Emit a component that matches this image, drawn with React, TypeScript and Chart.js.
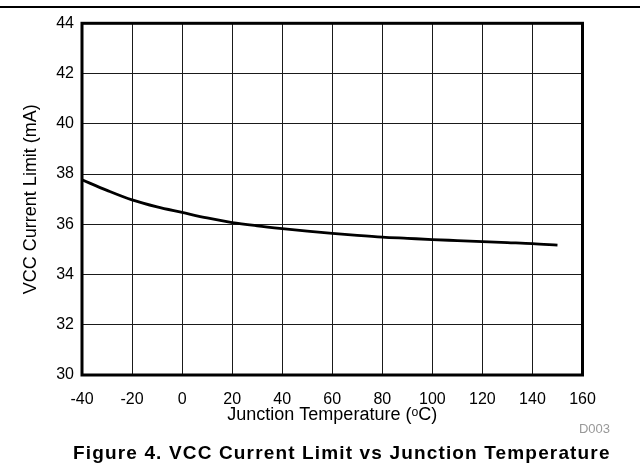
import React, { useEffect, useRef } from "react";
import { Chart, registerables } from "chart.js";

Chart.register(...registerables);

const temperatures = [-40, -30, -20, -10, 0, 10, 20, 30, 40, 50, 60, 70, 80, 90, 100, 110, 120, 130, 140, 150];
const currentLimit = [37.77, 37.35, 36.97, 36.69, 36.47, 36.25, 36.07, 35.94, 35.83, 35.73, 35.64, 35.56, 35.49, 35.44, 35.39, 35.35, 35.31, 35.27, 35.23, 35.17];
const xTicks = [-40, -20, 0, 20, 40, 60, 80, 100, 120, 140, 160];
const yTicks = [30, 32, 34, 36, 38, 40, 42, 44];

const xTitle = "Junction Temperature (\u1D52C)";
const yTitle = "VCC Current Limit (mA)";
const caption = "Figure 4. VCC Current Limit vs Junction Temperature";
const docId = "D003";

const FONT = "'Liberation Sans', Arial, Helvetica, sans-serif";

const frame = {
  id: "frameBox",
  afterDatasetsDraw(chart: any) {
    const { ctx, chartArea } = chart;
    ctx.save();
    ctx.strokeStyle = "#000";
    ctx.lineWidth = 3;
    ctx.strokeRect(chartArea.left, chartArea.top, chartArea.right - chartArea.left, chartArea.bottom - chartArea.top);
    ctx.restore();
  },
};

export default function App() {
  const ref = useRef<HTMLCanvasElement | null>(null);

  useEffect(() => {
    if (!ref.current) return;
    const chart = new Chart(ref.current, {
      type: "line",
      data: {
        datasets: [
          {
            data: temperatures.map((t, i) => ({ x: t, y: currentLimit[i] })),
            borderColor: "#000",
            borderWidth: 2.8,
            pointRadius: 0,
            cubicInterpolationMode: "monotone",
            fill: false,
          },
        ],
      },
      options: {
        responsive: false,
        animation: false,
        layout: { padding: { left: 0, right: 57.5, top: 23.3, bottom: 34 } },
        plugins: { legend: { display: false }, tooltip: { enabled: false } },
        scales: {
          x: {
            type: "linear",
            min: -40,
            max: 160,
            afterBuildTicks: (s: any) => {
              s.ticks = xTicks.map((v) => ({ value: v }));
            },
            afterFit: (s: any) => {
              s.height = 55;
            },
            grid: { color: "#1a1a1a", lineWidth: 1, drawTicks: false },
            border: { display: false },
            ticks: { color: "#000", font: { family: FONT, size: 16 }, padding: 15, maxRotation: 0, autoSkip: false },
            title: { display: true, text: xTitle, color: "#000", font: { family: FONT, size: 18 }, padding: { top: 0, bottom: 4 } },
          },
          y: {
            min: 30,
            max: 44,
            afterBuildTicks: (s: any) => {
              s.ticks = yTicks.map((v) => ({ value: v }));
            },
            afterFit: (s: any) => {
              s.width = 82;
            },
            grid: { color: "#1a1a1a", lineWidth: 1, drawTicks: false },
            border: { display: false },
            ticks: { color: "#000", font: { family: FONT, size: 16 }, padding: 8, autoSkip: false },
            title: { display: true, text: yTitle, color: "#000", font: { family: FONT, size: 18 }, padding: { top: 20, bottom: 0 } },
          },
        },
      },
      plugins: [frame],
    } as any);
    return () => chart.destroy();
  }, []);

  return (
    <div style={{ position: "fixed", left: 0, top: 0, width: 640, height: 464, background: "#fff", fontFamily: FONT }}>
      <div style={{ position: "absolute", left: 0, top: 6, width: 640, height: 1.5, background: "#000" }} />
      <canvas ref={ref} width={640} height={464} style={{ position: "absolute", left: 0, top: 0, width: 640, height: 464 }} />
      <div style={{ position: "absolute", right: 30, top: 421, fontSize: 13, lineHeight: "15px", color: "#999", whiteSpace: "nowrap" }}>{docId}</div>
      <div style={{ position: "absolute", left: 73, top: 443, fontSize: 19, lineHeight: "20px", fontWeight: "bold", letterSpacing: "1.15px", color: "#000", whiteSpace: "nowrap" }}>{caption}</div>
    </div>
  );
}
